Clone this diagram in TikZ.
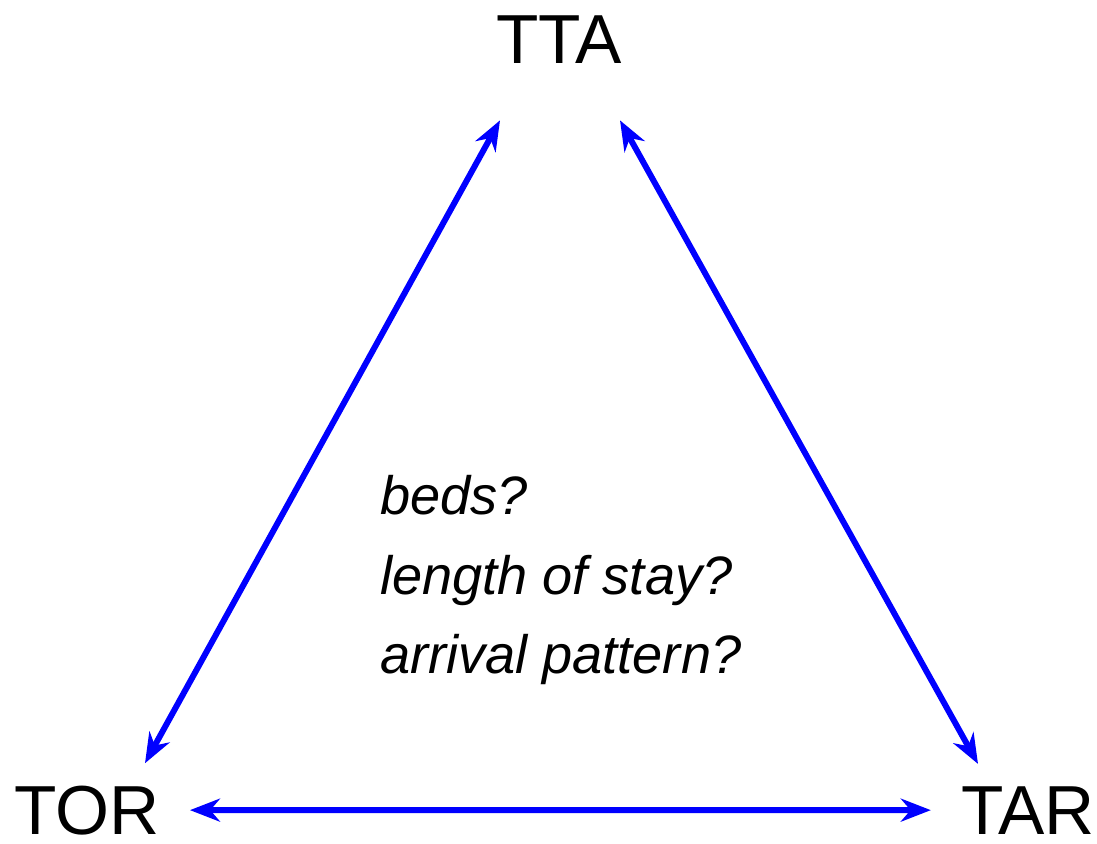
\documentclass[tikz,border=0pt]{standalone}
\usepackage{fontspec}
\setmainfont{Liberation Sans}
\usetikzlibrary{arrows.meta, calc}
\definecolor{linkblue}{RGB}{0, 0, 255}
\tikzset{
    corner/.style={inner sep=0pt, anchor=base, font=\fontsize{39.5}{46}\selectfont},
    link/.style={{Stealth[length=0.6cm, width=0.46cm]}-{Stealth[length=0.6cm, width=0.46cm]}, linkblue, line width=3.4pt}
}

\begin{document}
\begin{tikzpicture}[x=0.02cm, y=-0.02cm]
            \useasboundingbox (0, 0) rectangle (1097, 843);
            % Corners of the triangle
            \node[corner] (tta) at (559, 63) {TTA};
            \node[corner] (tor) at (87, 834) {TOR};
            \node[corner] (tar) at (1028, 834) {TAR};
            
            % Open questions
            \node[anchor=west, align=left, inner sep=0pt, font=\fontsize{30.8}{45}\selectfont\itshape] (questions) at (380, 580)
                {beds?\\length of stay?\\arrival pattern?};
            
            % Sides
            \draw[link] ([shift={(-59, 57)}]tta.south) -- ([shift={(58, -22)}]tor.north);
            \draw[link] ([shift={(61, 57)}]tta.south) -- ([shift={(-50, -22)}]tar.north);
            \draw[link, shorten <=0.6cm, shorten >=0.6cm] (tor.east) -- (tar.west);
        \end{tikzpicture}
\end{document}
